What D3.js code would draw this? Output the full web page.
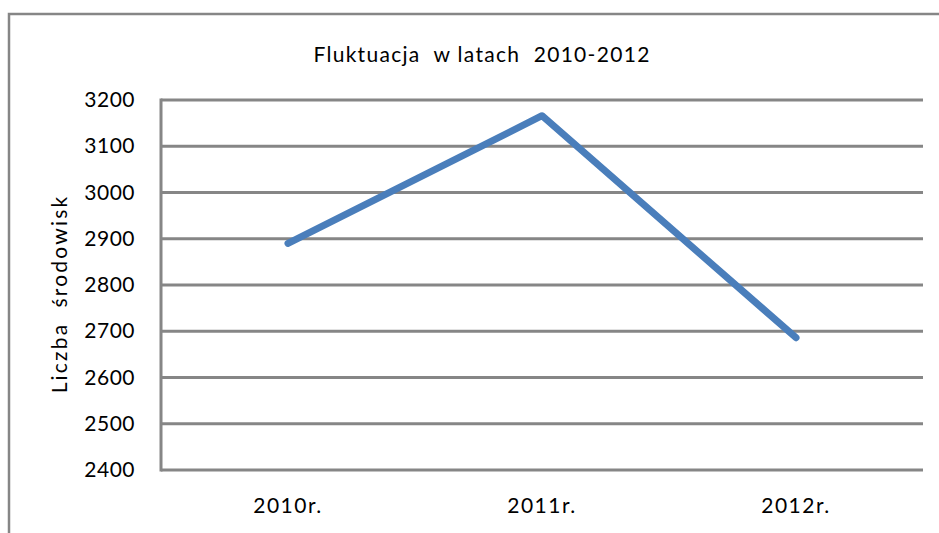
<!DOCTYPE html>
<html>
<head>
<meta charset="utf-8">
<script src="https://cdn.jsdelivr.net/npm/d3@7"></script>
<style>
  body { margin: 0; background: #fff; }
  text { font-family: Lato, "Open Sans", sans-serif; fill: #000; white-space: pre; }
</style>
</head>
<body>
<div id="chart"></div>
<script>
// chart data
var years = ["2010r.", "2011r.", "2012r."];
var counts = [2890, 3166, 2686];
var yTicks = [2400, 2500, 2600, 2700, 2800, 2900, 3000, 3100, 3200];
var title = "Fluktuacja  w latach  2010-2012";
var yLabel = "Liczba  środowisk";

var W = 939, H = 533;
var margin = { top: 100, right: 16, bottom: 63, left: 161 },
  width = W - margin.left - margin.right,
  height = H - margin.top - margin.bottom;

var root = d3.select("#chart")
  .append("svg")
  .attr("width", W)
  .attr("height", H);

// outer frame (cropped at right and bottom)
root.append("path")
  .attr("d", "M9,540 V14 H945")
  .attr("fill", "none")
  .attr("stroke", "#868686")
  .attr("stroke-width", 2.5);

root.append("text")
  .attr("x", 482)
  .attr("y", 62)
  .attr("text-anchor", "middle")
  .style("font-size", "21px")
  .style("letter-spacing", "1.3px")
  .text(title);

var svg = root.append("g")
  .attr("transform", "translate(" + margin.left + "," + margin.top + ")");

var x = d3.scaleBand()
  .domain(years)
  .range([0, width]);

var y = d3.scaleLinear()
  .domain([2400, 3200])
  .range([height, 0]);

// gridlines
svg.append("g")
  .selectAll("line")
  .data(yTicks)
  .enter()
  .append("line")
  .attr("x1", 0)
  .attr("x2", width)
  .attr("y1", function (d) { return y(d); })
  .attr("y2", function (d) { return y(d); })
  .attr("stroke", "#868686")
  .attr("stroke-width", 3);

// left axis line
svg.append("line")
  .attr("x1", 0).attr("x2", 0)
  .attr("y1", y(3200) - 1.5).attr("y2", y(2400) + 1.5)
  .attr("stroke", "#868686")
  .attr("stroke-width", 3);

// y tick labels
var yAxis = svg.append("g")
  .call(d3.axisLeft(y).tickValues(yTicks).tickSize(0).tickPadding(26).tickFormat(d3.format("d")));
yAxis.select(".domain").remove();
yAxis.selectAll("text")
  .style("font-size", "21px")
  .style("letter-spacing", "0.5px")
  .style("font-family", "Lato, 'Open Sans', sans-serif");

// x tick labels
var xAxis = svg.append("g")
  .attr("transform", "translate(0," + height + ")")
  .call(d3.axisBottom(x).tickSize(0).tickPadding(28));
xAxis.select(".domain").remove();
xAxis.selectAll("text")
  .style("font-size", "21px")
  .style("letter-spacing", "1.5px")
  .style("font-family", "Lato, 'Open Sans', sans-serif");

// y axis label
root.append("text")
  .attr("transform", "translate(67,294) rotate(-90)")
  .attr("text-anchor", "middle")
  .style("font-size", "21px")
  .style("letter-spacing", "2.2px")
  .text(yLabel);

// the line
var line = d3.line()
  .x(function (d, i) { return x(years[i]) + x.bandwidth() / 2; })
  .y(function (d) { return y(d); });

svg.append("path")
  .datum(counts)
  .attr("d", line)
  .attr("fill", "none")
  .attr("stroke", "#4a7ebb")
  .attr("stroke-width", 7)
  .attr("stroke-linecap", "round")
  .attr("stroke-linejoin", "round");
</script>
</body>
</html>
